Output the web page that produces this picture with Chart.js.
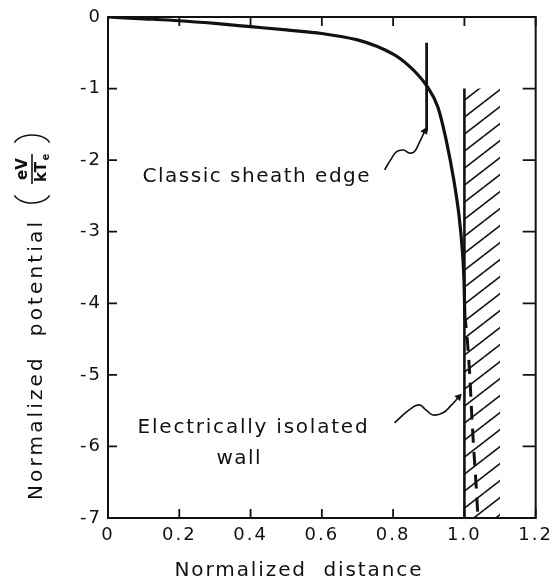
<!DOCTYPE html>
<html>
<head>
<meta charset="utf-8">
<script src="https://cdn.jsdelivr.net/npm/chart.js@4.4.1/dist/chart.umd.min.js"></script>
<style>
  html, body { margin: 0; padding: 0; background: #fff; }
</style>
</head>
<body>
<canvas id="chart" width="557" height="580"></canvas>
<script>
// axis tick labels
const xTickLabels = ['0', '0.2', '0.4', '0.6', '0.8', '1.0', '1.2'];
const yTickLabels = ['0', '-1', '-2', '-3', '-4', '-5', '-6', '-7'];

// potential profile (solid part)
const distX = [0, 0.1, 0.2, 0.3, 0.4, 0.5, 0.6, 0.7, 0.754, 0.8, 0.822, 0.846, 0.87, 0.894, 0.925, 0.948, 0.971, 0.985, 0.994, 0.999, 1.001];
const potY  = [0, -0.025, -0.052, -0.09, -0.135, -0.18, -0.23, -0.32, -0.41, -0.52, -0.59, -0.69, -0.81, -0.96, -1.25, -1.7, -2.3, -2.78, -3.25, -3.7, -4.15];

// dashed continuation into the wall
const dashX = [1.001, 1.008, 1.015, 1.021, 1.027, 1.033, 1.038];
const dashY = [-4.15, -4.5, -5.0, -5.6, -6.1, -6.55, -7.0];

// classic sheath edge marker
const sheathX = [0.894, 0.894];
const sheathY = [-0.36, -1.6];

// wall
const wallX = [1.0, 1.0];
const wallY = [-1, -7];
const wallBandX = [1.0, 1.1];
const wallBandY = [-1, -1];
const wallBottom = -7;

// pointer arrows
const arrow1X = [0.776, 0.793, 0.809, 0.829, 0.845, 0.859, 0.873, 0.889];
const arrow1Y = [-2.137, -1.997, -1.885, -1.858, -1.899, -1.885, -1.76, -1.592];
const arrow2X = [0.804, 0.845, 0.873, 0.892, 0.912, 0.94, 0.962, 0.984];
const arrow2Y = [-5.67, -5.49, -5.42, -5.49, -5.56, -5.53, -5.43, -5.31];

const INK = '#111';
const FONT = '"DejaVu Sans", sans-serif';

const pts = (xs, ys) => xs.map((x, i) => ({ x, y: ys[i] }));

function makeHatch() {
  const W = 22, H = 17;
  const c = document.createElement('canvas');
  c.width = W; c.height = H;
  const g = c.getContext('2d');
  g.strokeStyle = INK;
  g.lineWidth = 1.6;
  for (const m of [-1, 0, 1]) {
    g.beginPath();
    g.moveTo(0, H + m * H);
    g.lineTo(W, m * H);
    g.stroke();
  }
  return g.createPattern(c, 'repeat');
}

function spacedText(ctx, text, x, y, width, align) {
  ctx.letterSpacing = '0px';
  const w = ctx.measureText(text).width;
  const ls = text.length > 1 ? (width - w) / (text.length - 1) : 0;
  ctx.letterSpacing = ls + 'px';
  ctx.textAlign = 'left';
  ctx.fillText(text, align === 'center' ? x - width / 2 : x, y);
  ctx.letterSpacing = '0px';
}

function arrowSet(xs, ys, rot) {
  const n = xs.length;
  return {
    data: pts(xs, ys),
    showLine: true,
    borderColor: INK,
    backgroundColor: INK,
    borderWidth: 1.6,
    tension: 0.45,
    pointStyle: 'triangle',
    pointRadius: xs.map((_, i) => i === n - 1 ? 4.5 : 0),
    pointRotation: rot,
    pointBorderWidth: 0,
  };
}

const frameTicks = {
  id: 'frameTicks',
  beforeDraw(chart) {
    chart.ctx.letterSpacing = '2px';
  },
  afterDraw(chart) {
    const { ctx, chartArea: a, scales: { x, y } } = chart;
    ctx.save();
    ctx.letterSpacing = '0px';
    ctx.strokeStyle = INK;
    ctx.lineWidth = 2;
    ctx.strokeRect(a.left, a.top, a.right - a.left, a.bottom - a.top);
    ctx.lineWidth = 1.8;
    ctx.beginPath();
    x.ticks.forEach(t => {
      const px = x.getPixelForValue(t.value);
      ctx.moveTo(px, a.bottom); ctx.lineTo(px, a.bottom - 9);
      ctx.moveTo(px, a.top);    ctx.lineTo(px, a.top + 9);
    });
    y.ticks.forEach(t => {
      const py = y.getPixelForValue(t.value);
      ctx.moveTo(a.left, py);  ctx.lineTo(a.left + 9, py);
      ctx.moveTo(a.right, py); ctx.lineTo(a.right - 13, py);
    });
    ctx.stroke();

    // annotation text
    ctx.fillStyle = INK;
    ctx.textBaseline = 'middle';
    ctx.font = '20px ' + FONT;
    spacedText(ctx, 'Classic sheath edge', x.getPixelForValue(0.097), y.getPixelForValue(-2.235), 227);
    spacedText(ctx, 'Electrically isolated', x.getPixelForValue(0.083), y.getPixelForValue(-5.74), 230);
    spacedText(ctx, 'wall', x.getPixelForValue(0.366), y.getPixelForValue(-6.17), 44, 'center');

    // x title
    spacedText(ctx, 'Normalized  distance', 298, 571, 247, 'center');

    // y title, rotated
    ctx.save();
    ctx.translate(37, 500);
    ctx.rotate(-Math.PI / 2);
    spacedText(ctx, 'Normalized  potential', 0, 0, 278);
    // (eV / kTe)
    const cu = 331, cv = -5;
    ctx.font = 'bold 15px ' + FONT;
    ctx.textAlign = 'center';
    ctx.fillText('eV', cu, cv - 9);
    ctx.fillText('kT', cu - 3, cv + 10);
    ctx.font = 'bold 10px ' + FONT;
    ctx.fillText('e', cu + 12, cv + 14);
    ctx.lineWidth = 1.6;
    ctx.beginPath();
    ctx.moveTo(cu - 15, cv); ctx.lineTo(cu + 15, cv);
    ctx.stroke();
    ctx.lineWidth = 1.5;
    ctx.beginPath();
    ctx.ellipse(cu - 22, cv, 12, 19, 0, Math.PI * 0.62, Math.PI * 1.38);
    ctx.stroke();
    ctx.beginPath();
    ctx.ellipse(cu + 22, cv, 12, 19, 0, -Math.PI * 0.38, Math.PI * 0.38);
    ctx.stroke();
    ctx.restore();

    ctx.restore();
    ctx.letterSpacing = '0px';
  }
};

new Chart(document.getElementById('chart'), {
  type: 'scatter',
  data: {
    datasets: [
      {
        data: pts(distX, potY),
        showLine: true,
        borderColor: INK,
        borderWidth: 3.2,
        cubicInterpolationMode: 'monotone',
        pointRadius: 0,
        order: 1,
      },
      {
        data: pts(dashX, dashY),
        showLine: true,
        borderColor: INK,
        borderWidth: 3,
        borderDash: [14, 9],
        tension: 0.3,
        pointRadius: 0,
        order: 2,
      },
      {
        data: pts(sheathX, sheathY),
        showLine: true,
        borderColor: INK,
        borderWidth: 2.8,
        pointRadius: 0,
        order: 3,
      },
      {
        data: pts(wallX, wallY),
        showLine: true,
        borderColor: INK,
        borderWidth: 2.6,
        pointRadius: 0,
        order: 4,
      },
      {
        data: pts(wallBandX, wallBandY),
        showLine: true,
        borderColor: 'rgba(0,0,0,0)',
        borderWidth: 0,
        backgroundColor: makeHatch(),
        fill: { value: wallBottom },
        pointRadius: 0,
        order: 9,
      },
      Object.assign(arrowSet(arrow1X, arrow1Y, 27), { order: 5 }),
      Object.assign(arrowSet(arrow2X, arrow2Y, 42), { order: 6 }),
    ],
  },
  options: {
    responsive: false,
    animation: false,
    events: [],
    layout: { padding: { top: 17, right: 16, left: 0, bottom: 0 } },
    plugins: { legend: { display: false }, tooltip: { enabled: false } },
    scales: {
      x: {
        type: 'linear',
        min: 0,
        max: 1.2,
        grid: { display: false, drawTicks: false },
        border: { display: false },
        ticks: {
          stepSize: 0.2,
          padding: 7,
          color: INK,
          font: { family: FONT, size: 18 },
          maxRotation: 0,
          callback: (v, i) => xTickLabels[i],
        },
        afterFit: s => { s.height = 62; },
      },
      y: {
        type: 'linear',
        min: -7,
        max: 0,
        grid: { display: false, drawTicks: false },
        border: { display: false },
        ticks: {
          stepSize: 1,
          padding: 6,
          color: INK,
          font: { family: FONT, size: 18 },
          callback: v => yTickLabels[Math.round(-v)],
        },
        afterFit: s => { s.width = 108; },
      },
    },
  },
  plugins: [frameTicks],
});
</script>
</body>
</html>
